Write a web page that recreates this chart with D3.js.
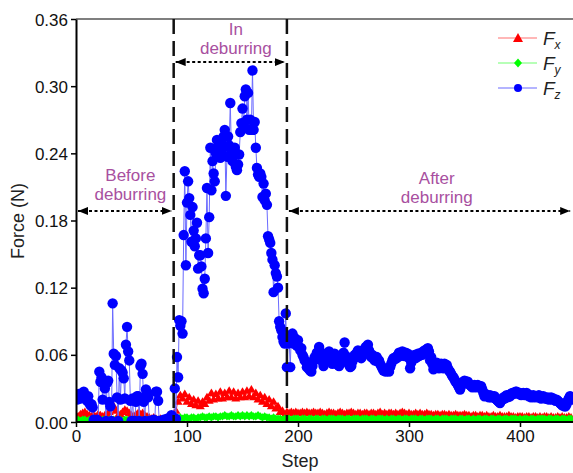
<!DOCTYPE html>
<html>
<head>
<meta charset="utf-8">
<script src="https://cdn.jsdelivr.net/npm/d3@7"></script>
<style>
  body { margin: 0; background: #fff; }
  text { font-family: Arial, "Liberation Sans", sans-serif; }
</style>
</head>
<body>
<script>
var w = 573;
var h = 473;
var margin = { top: 19, left: 76, bottom: 51 };

// Fz, one value per step (0..447)
var fz = [
  .022,.020,.024,.025,.021,.023,.026,.027,.024,.022,
  .019,.023,.017,.015,.016,.013,.002,.001,.001,.002,
  .001,.045,.036,.040,.020,.034,.030,.001,.035,.037,
  .018,.014,.001,.106,.061,.051,.059,.022,.001,.048,
  .020,.046,.044,.039,.021,.069,.085,.063,.055,.019,
  .001,.021,.001,.001,.018,.023,.023,.001,.050,.052,
  .043,.018,.001,.029,.025,.022,.001,.001,.001,.001,
  .002,.001,.027,.027,.019,.001,.001,.001,.001,.002,
  .001,.002,.003,.002,.003,.004,.006,.004,.002,.030,
  .003,.058,.040,.091,.086,.090,.079,.167,.224,.140,
  .196,.215,.200,.185,.161,.192,.171,.157,.164,.178,
  .137,.149,.149,.139,.119,.115,.128,.164,.209,.151,
  .183,.245,.207,.233,.222,.215,.240,.252,.246,.240,
  .236,.250,.244,.255,.261,.202,.237,.255,.247,.285,
  .241,.233,.238,.245,.228,.225,.230,.239,.259,.267,
  .280,.265,.291,.297,.270,.294,.261,.270,.261,.314,
  .261,.268,.245,.227,.221,.219,.222,.219,.201,.213,
  .198,.204,.194,.166,.163,.160,.151,.145,.116,.140,
  .133,.130,.120,.090,.085,.082,.076,.072,.070,.097,
  .049,.070,.074,.049,.078,.079,.070,.075,.072,.068,
  .073,.067,.064,.066,.060,.058,.055,.054,.049,.052,
  .047,.046,.045,.050,.055,.058,.056,.062,.060,.067,
  .063,.058,.054,.050,.055,.059,.061,.057,.063,.060,
  .056,.052,.058,.061,.055,.053,.051,.050,.054,.058,
  .060,.062,.071,.059,.055,.053,.051,.049,.050,.054,
  .057,.060,.058,.062,.064,.063,.060,.057,.059,.062,
  .065,.067,.066,.069,.064,.061,.058,.060,.057,.055,
  .056,.058,.054,.055,.052,.050,.048,.046,.047,.045,
  .046,.048,.045,.049,.052,.055,.057,.056,.058,.057,
  .060,.062,.059,.061,.063,.061,.059,.062,.060,.061,
  .057,.048,.053,.056,.058,.060,.057,.058,.061,.059,
  .060,.062,.060,.063,.064,.062,.065,.066,.063,.055,
  .058,.052,.047,.049,.051,.053,.050,.048,.049,.052,
  .050,.048,.052,.050,.051,.048,.046,.045,.043,.041,
  .040,.038,.036,.035,.033,.031,.029,.032,.034,.036,
  .037,.035,.036,.036,.034,.033,.032,.031,.032,.033,
  .031,.032,.033,.031,.032,.032,.029,.026,.023,.025,
  .024,.023,.022,.024,.022,.023,.022,.023,.021,.020,
  .019,.018,.017,.019,.020,.022,.021,.023,.024,.022,
  .023,.023,.025,.026,.025,.026,.027,.027,.026,.025,
  .026,.024,.025,.026,.024,.025,.026,.024,.023,.024,
  .022,.023,.024,.022,.023,.023,.022,.024,.023,.021,
  .022,.023,.022,.021,.021,.022,.020,.021,.022,.020,
  .021,.020,.019,.020,.019,.018,.017,.016,.015,.015,
  .014,.014,.016,.019,.021,.023,.022,.020
];

// Fx and Fy, one value every 2 steps (0, 2, ..., 446)
var fxy_stride = 2;
var fx = [
  .006,.005,.007,.008,.009,.007,.006,.005,.006,.005,
  .007,.006,.005,.006,.007,.009,.012,.014,.010,.006,
  .007,.009,.011,.010,.008,.006,.005,.007,.008,.007,
  .008,.006,.005,.004,.003,.004,.003,.002,.003,.002,
  .002,.003,.002,.003,.003,.010,.018,.024,.021,.025,
  .018,.022,.016,.020,.015,.019,.014,.018,.016,.022,
  .019,.026,.020,.025,.021,.027,.021,.026,.022,.028,
  .022,.027,.021,.026,.022,.027,.022,.028,.023,.029,
  .022,.026,.020,.024,.018,.022,.016,.020,.014,.018,
  .012,.014,.009,.010,.006,.009,.008,.009,.008,.009,
  .008,.008,.009,.008,.009,.008,.008,.009,.008,.008,
  .009,.008,.007,.008,.009,.008,.008,.007,.008,.009,
  .008,.007,.008,.008,.009,.008,.007,.008,.008,.007,
  .008,.008,.007,.008,.008,.007,.008,.009,.007,.008,
  .007,.008,.008,.007,.008,.007,.008,.009,.008,.007,
  .008,.007,.007,.008,.007,.008,.007,.007,.008,.007,
  .007,.006,.007,.007,.006,.007,.007,.006,.007,.006,
  .006,.007,.006,.006,.006,.007,.006,.006,.005,.006,
  .006,.005,.006,.006,.005,.006,.005,.005,.006,.005,
  .005,.006,.005,.005,.005,.006,.005,.005,.004,.005,
  .005,.005,.004,.005,.005,.004,.005,.005,.004,.005,
  .004,.005,.005,.004,.005,.004,.004,.005,.004,.005,
  .004,.004,.005,.004
];
var fy = [
  .002,.002,.001,.002,.002,.001,.002,.002,.001,.002,
  .002,.001,.002,.002,.001,.002,.002,.002,.001,.002,
  .002,.001,.002,.002,.001,.002,.002,.001,.002,.002,
  .001,.002,.002,.001,.002,.001,.002,.002,.001,.002,
  .001,.002,.002,.001,.002,.003,.003,.004,.003,.004,
  .004,.003,.004,.004,.003,.004,.004,.005,.004,.004,
  .005,.004,.005,.005,.004,.005,.005,.006,.005,.005,
  .006,.005,.005,.006,.005,.006,.005,.006,.005,.006,
  .005,.005,.006,.005,.004,.005,.004,.004,.003,.004,
  .003,.003,.003,.002,.003,.003,.003,.002,.003,.003,
  .003,.002,.003,.003,.002,.003,.003,.002,.003,.003,
  .002,.003,.003,.002,.003,.003,.003,.002,.003,.003,
  .003,.002,.003,.003,.002,.003,.003,.003,.002,.003,
  .003,.003,.002,.003,.003,.002,.003,.003,.003,.002,
  .003,.002,.003,.003,.002,.003,.003,.002,.003,.003,
  .002,.003,.003,.003,.002,.003,.003,.002,.003,.003,
  .003,.002,.003,.003,.002,.003,.003,.003,.002,.003,
  .003,.003,.002,.003,.003,.002,.003,.003,.002,.003,
  .002,.003,.003,.002,.003,.003,.002,.003,.003,.002,
  .003,.003,.002,.003,.003,.002,.003,.003,.003,.002,
  .003,.002,.003,.003,.002,.003,.003,.002,.003,.003,
  .003,.003,.002,.003,.003,.002,.003,.003,.002,.003,
  .003,.002,.003,.003
];

var x_ticks = [0, 100, 200, 300, 400];
var y_ticks = [0, 0.06, 0.12, 0.18, 0.24, 0.30, 0.36];
var bounds = [88, 190]; // phase borders (step)
var phase_labels = [["Before", "deburring"], ["In", "deburring"], ["After", "deburring"]];
var phase_from = [0, 88, 190];
var phase_to = [88, 190, 447];
var phase_text_x = [49, 144, 325];
var phase_arrow_y = [0.1885, 0.3215, 0.1885];
var legend_names = ["x", "y", "z"];

var x = d3.scaleLinear().domain([0, 450]).range([margin.left, margin.left + 450 * 1.11]);
var y = d3.scaleLinear().domain([0, 0.36]).range([h - margin.bottom, margin.top]);

var svg = d3.select('body').append('svg').attr('width', w).attr('height', h);

svg.append('clipPath').attr('id', 'clip')
  .append('rect')
  .attr('x', x(0)).attr('y', y(0.36))
  .attr('width', x(450) - x(0)).attr('height', y(0) - y(0.36));

var purple = '#a8509f';
var tri = 'M0,-4.5L4.5,3L-4.5,3Z';
var dia = 'M0,-4.2L3.6,0L0,4.2L-3.6,0Z';

var series = [
  { vals: fx, stride: fxy_stride, line: '#ff7070', fill: '#ff0000', mark: 'tri' },
  { vals: fy, stride: fxy_stride, line: '#70ff70', fill: '#00ff00', mark: 'dia' },
  { vals: fz, stride: 1, line: '#6b6bff', fill: '#0000ff', mark: 'circle' }
];

var plot = svg.append('g').attr('clip-path', 'url(#clip)');

series.forEach(function (s) {
  var pts = s.vals.map(function (v, i) { return [i * s.stride, v]; });
  var line = d3.line().x(function (d) { return x(d[0]); }).y(function (d) { return y(d[1]); });
  plot.append('path')
    .attr('d', line(pts))
    .style('fill', 'none')
    .style('stroke', s.line)
    .style('stroke-width', 1);
  var g = plot.append('g');
  if (s.mark === 'circle') {
    g.selectAll('circle').data(pts).enter().append('circle')
      .attr('cx', function (d) { return x(d[0]); })
      .attr('cy', function (d) { return y(d[1]); })
      .attr('r', 5.2)
      .style('fill', s.fill);
  } else {
    g.selectAll('path').data(pts).enter().append('path')
      .attr('d', s.mark === 'tri' ? tri : dia)
      .attr('transform', function (d) { return 'translate(' + x(d[0]) + ',' + y(d[1]) + ')'; })
      .style('fill', s.fill);
  }
});

// top frame
svg.append('line')
  .attr('x1', x(0)).attr('x2', w)
  .attr('y1', y(0.36)).attr('y2', y(0.36))
  .style('stroke', '#555').style('stroke-width', 1.5);

// phase borders
svg.selectAll('line.bound').data(bounds).enter().append('line')
  .attr('class', 'bound')
  .attr('x1', function (d) { return x(d); }).attr('x2', function (d) { return x(d); })
  .attr('y1', y(0.36)).attr('y2', y(0))
  .style('stroke', '#111')
  .style('stroke-width', 2.5)
  .style('stroke-dasharray', '15,7');

// arrows + phase labels
svg.append('defs').append('marker')
  .attr('id', 'head')
  .attr('viewBox', '0 0 10 8')
  .attr('refX', 10).attr('refY', 4)
  .attr('markerWidth', 10).attr('markerHeight', 8)
  .attr('markerUnits', 'userSpaceOnUse')
  .attr('orient', 'auto-start-reverse')
  .append('path').attr('d', 'M0,0L10,4L0,8Z').style('fill', '#000');

phase_labels.forEach(function (lab, i) {
  var ay = y(phase_arrow_y[i]);
  svg.append('line')
    .attr('x1', x(phase_from[i]) + 2).attr('x2', x(phase_to[i]) - 2)
    .attr('y1', ay).attr('y2', ay)
    .style('stroke', '#000')
    .style('stroke-width', 2)
    .style('stroke-dasharray', '3,2.5')
    .attr('marker-start', 'url(#head)')
    .attr('marker-end', 'url(#head)');
  var top = i === 0 ? -30 : -27;
  var t = svg.append('text')
    .attr('x', x(phase_text_x[i]))
    .attr('y', ay + top)
    .attr('text-anchor', 'middle')
    .style('font-size', '17px')
    .style('fill', purple);
  lab.forEach(function (s, j) {
    t.append('tspan').text(s)
      .attr('x', x(phase_text_x[i]))
      .attr('dy', j === 0 ? 0 : 19);
  });
});

// axes
var xAxis = svg.append('g')
  .attr('transform', 'translate(0,' + y(0) + ')')
  .call(d3.axisBottom(x).tickValues(x_ticks).tickSize(5).tickSizeOuter(0));
var yAxis = svg.append('g')
  .attr('transform', 'translate(' + x(0) + ',0)')
  .call(d3.axisLeft(y).tickValues(y_ticks).tickFormat(d3.format('.2f')).tickSize(5).tickSizeOuter(0));

[xAxis, yAxis].forEach(function (a) {
  a.select('.domain').style('stroke', '#000').style('stroke-width', 2);
  a.selectAll('.tick line').style('stroke', '#000').style('stroke-width', 1.5);
  a.selectAll('.tick text')
    .style('font-family', 'Arial, "Liberation Sans", sans-serif')
    .style('font-size', '17px')
    .style('fill', '#111');
});
yAxis.selectAll('.tick text').attr('dy', '0.36em');
// x axis line ends at the window edge
xAxis.select('.domain').attr('d', 'M' + x(0) + ',0H' + w);

svg.append('text')
  .text('Step')
  .attr('x', 300).attr('y', 467)
  .attr('text-anchor', 'middle')
  .style('font-size', '18px').style('fill', '#222');

svg.append('text')
  .text('Force (N)')
  .attr('transform', 'translate(24,221) rotate(-90)')
  .attr('text-anchor', 'middle')
  .style('font-size', '18px').style('fill', '#222');

// legend
var lg = svg.append('g');
series.forEach(function (s, i) {
  var ly = 38 + i * 25;
  lg.append('line')
    .attr('x1', 498).attr('x2', 537)
    .attr('y1', ly).attr('y2', ly)
    .style('stroke', s.line).style('stroke-width', 1.2);
  if (s.mark === 'circle') {
    lg.append('circle').attr('cx', 518).attr('cy', ly).attr('r', 4).style('fill', s.fill);
  } else {
    lg.append('path')
      .attr('d', s.mark === 'tri' ? 'M0,-5L5,4L-5,4Z' : 'M0,-4.5L4,0L0,4.5L-4,0Z')
      .attr('transform', 'translate(518,' + ly + ')')
      .style('fill', s.fill);
  }
  var t = lg.append('text')
    .attr('x', 543).attr('y', ly + 7)
    .style('font-size', '19px').style('font-style', 'italic').style('fill', '#222');
  t.append('tspan').text('F');
  t.append('tspan').text(legend_names[i]).attr('dy', 4).style('font-size', '12px');
});
</script>
</body>
</html>
